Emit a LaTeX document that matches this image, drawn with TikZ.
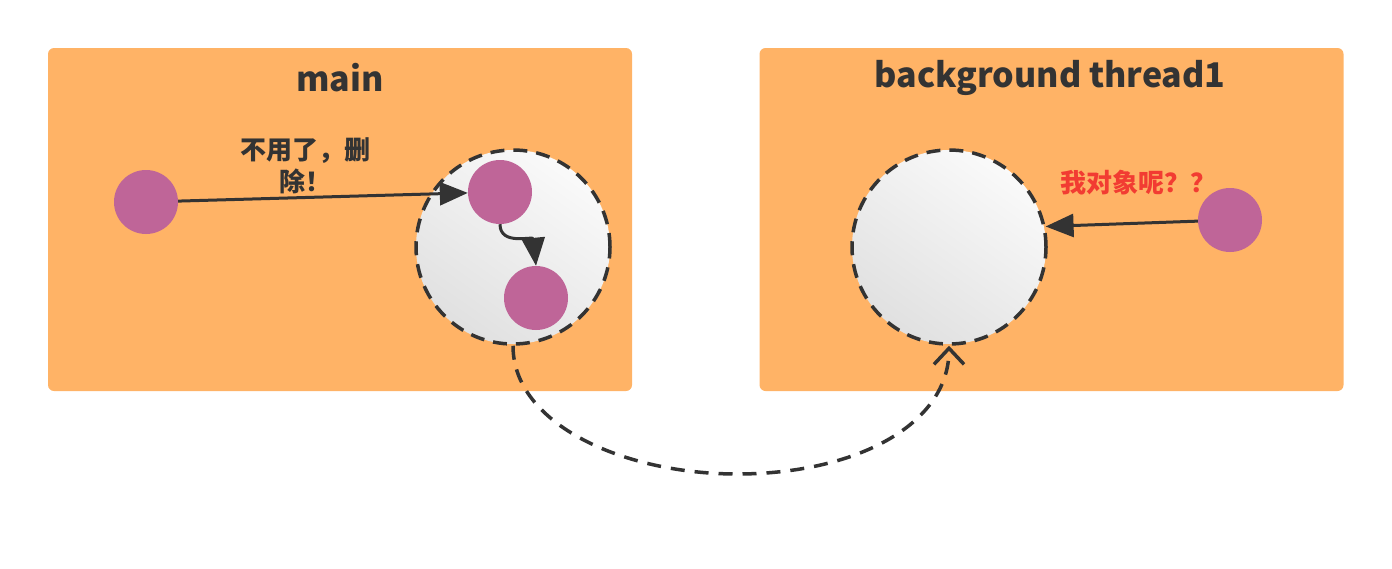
\documentclass[tikz,border=0pt]{standalone}
\usepackage{fontspec}
\setmainfont{Noto Sans CJK SC}
\usetikzlibrary{arrows.meta}
\definecolor{boxorange}{HTML}{FFB366}
\definecolor{dotpink}{HTML}{BF6598}
\definecolor{ink}{HTML}{333333}
\definecolor{alertred}{HTML}{F23C32}
\tikzset{
  panel/.style={fill=boxorange, draw=none, rounded corners=6pt, minimum width=584pt, minimum height=343pt, inner sep=0pt},
  paneltitle/.style={font=\fontsize{34}{38}\selectfont\bfseries, text=ink},
  dot/.style={circle, fill=dotpink, draw=none, minimum size=64pt, inner sep=0pt},
  bigcirc/.style={circle, draw=ink, line width=3.5pt, dash pattern=on 14pt off 9pt, minimum size=194pt, inner sep=0pt,
    top color=gray!4, bottom color=gray!24, shading angle=-35},
  arr/.style={draw=ink, line width=3pt, -{Triangle[length=28pt,width=23pt]}},
  dasharr/.style={draw=ink, line width=3.5pt, dash pattern=on 14pt off 10pt, -{Straight Barb[length=16pt,width=30pt,line width=3.5pt]}},
  note/.style={font=\fontsize{26}{32}\selectfont\bfseries, align=center}
}
\begin{document}
\begin{tikzpicture}[x=1pt,y=-1pt]
\useasboundingbox (0,0) rectangle (1392,568);
\node[panel] (mainbox) at (340,219.5) {};
\node[panel] (bgbox) at (1051.5,219.5) {};
\node[paneltitle] (maintitle) at (340,78) {main};
\node[paneltitle] (bgtitle) at (1050,78) {background thread1};

\node[bigcirc] (L) at (513,247) {};
\node[bigcirc] (R) at (949,247) {};

\node[dot] (a) at (146,202) {};
\node[dot] (b) at (500,192) {};
\node[dot] (c) at (536,298) {};
\node[dot] (d) at (1230,220) {};

\node[note, text=ink] (delnote) at (305,166) {不用了，删\\除！};
\node[note, text=alertred] (wherenote) at (1138,183) {我对象呢？？};

\draw[arr] (a) -- (b);
\draw[arr] (b.south) .. controls +(0,22) and +(-3,-30) .. (c.north);
\draw[arr] (d) -- (R.12);
\draw[dasharr] (L.south) .. controls (513,425) and (625,474) .. (737,474)
  .. controls (855,474) and (949,425) .. (R.south);
\end{tikzpicture}
\end{document}
